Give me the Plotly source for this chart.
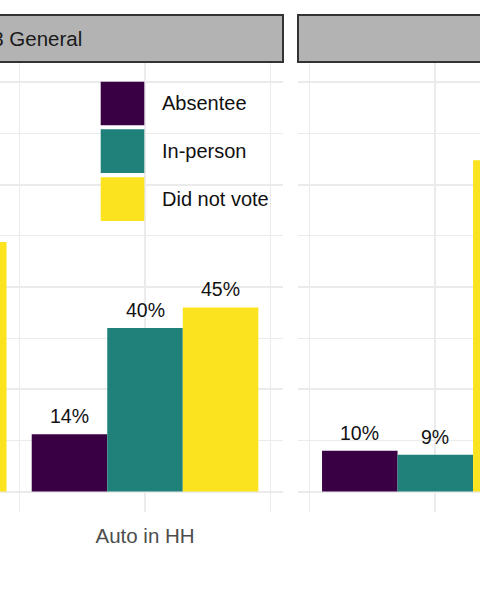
import plotly.graph_objects as go

# ---------------- data ----------------
categories = ["No Auto in HH", "Auto in HH"]
series_names = ["Absentee", "In-person", "Did not vote"]
series_colors = ["#390143", "#20807A", "#FBE31F"]
panel_titles = ["2018 General", ""]   # right-hand title lies outside the visible crop

# left facet (values outside the visible crop are unknown -> None)
left_absentee = [None, 14]
left_inperson = [None, 40]
left_didnotvote = [61, 45]

# right facet
right_absentee = [10, None]
right_inperson = [9, None]
right_didnotvote = [81, None]

panels = [
    [left_absentee, left_inperson, left_didnotvote],
    [right_absentee, right_inperson, right_didnotvote],
]

# ---------------- styling / geometry ----------------
W, H = 480, 600
FONT = "Liberation Sans, Arial, Helvetica, sans-serif"
GRID = "#EBEBEB"
STRIP_FILL = "#B3B3B3"
STRIP_LINE = "#333333"


def px(x):
    return x / W


def py(y):
    return 1 - y / H


x_domains = [[0, px(283)], [px(298), 1]]
x_ranges = [[0.424, 1.548], [-0.5455, 0.1776]]
y_domain = [py(512), py(62)]
y_range = [-5, 105]
bar_w = 0.3
offsets = [-0.45, -0.15, 0.15]

fig = go.Figure()
annotations = []

for p, series in enumerate(panels):
    xa = "x" if p == 0 else "x2"
    ya = "y" if p == 0 else "y2"
    for s, vals in enumerate(series):
        fig.add_trace(go.Bar(
            x=list(range(len(categories))), y=vals,
            width=bar_w, offset=offsets[s],
            marker=dict(color=series_colors[s], line=dict(width=0)),
            name=series_names[s], showlegend=False,
            xaxis=xa, yaxis=ya, hoverinfo="skip",
        ))
        for i, v in enumerate(vals):
            if v is None:
                continue
            annotations.append(dict(
                x=i + offsets[s] + bar_w / 2, y=v, xref=xa, yref=ya,
                text=f"{v}%", showarrow=False, yanchor="bottom",
                yshift=5, font=dict(family=FONT, size=19.5, color="#111111"),
            ))

axis_common = dict(
    showline=False, zeroline=False, ticks="",
    tickvals=list(range(len(categories))), ticktext=categories,
    showgrid=True, gridcolor=GRID, gridwidth=1.8,
    minor=dict(tickvals=[-0.5, 0.5, 1.5], showgrid=True, gridcolor=GRID, gridwidth=1),
    tickfont=dict(family=FONT, size=20.5, color="#4D4D4D"),
    ticklabelstandoff=9, fixedrange=True,
)
yaxis_common = dict(
    range=y_range, domain=y_domain, showticklabels=False, zeroline=False,
    showline=False, ticks="", dtick=25, tick0=0,
    showgrid=True, gridcolor=GRID, gridwidth=1.8,
    minor=dict(dtick=12.5, tick0=0, showgrid=True, gridcolor=GRID, gridwidth=1),
    fixedrange=True,
)

shapes = []
# facet strips
strip_spans = [[-244, 283], [298, 825]]
for p, (a, b) in enumerate(strip_spans):
    shapes.append(dict(type="rect", xref="paper", yref="paper",
                       x0=px(a), x1=px(b), y0=py(62), y1=py(15),
                       fillcolor=STRIP_FILL, line=dict(color=STRIP_LINE, width=2),
                       layer="above"))
    if panel_titles[p]:
        annotations.append(dict(x=px((a + b) / 2), y=py(38.5), xref="paper", yref="paper",
                                text=panel_titles[p], showarrow=False,
                                xanchor="center", yanchor="middle",
                                font=dict(family=FONT, size=20.5, color="#1A1A1A")))

# legend (drawn inside left panel)
key_left, key_size, key_tops = 100.7, 43.6, [81.7, 129.3, 177.3]
for s, name in enumerate(series_names):
    t = key_tops[s]
    shapes.append(dict(type="rect", xref="paper", yref="paper",
                       x0=px(key_left), x1=px(key_left + key_size),
                       y0=py(t + key_size), y1=py(t),
                       fillcolor=series_colors[s], line=dict(width=0)))
    annotations.append(dict(x=px(159.5), y=py(t + key_size / 2), xref="paper", yref="paper",
                            text=name, showarrow=False, xanchor="left", yanchor="middle",
                            font=dict(family=FONT, size=20, color="#111111")))

fig.update_layout(
    width=W, height=H, margin=dict(l=0, r=0, t=0, b=0, pad=0),
    paper_bgcolor="white", plot_bgcolor="white",
    barmode="overlay", showlegend=False,
    xaxis=dict(domain=x_domains[0], range=x_ranges[0], anchor="y", **axis_common),
    xaxis2=dict(domain=x_domains[1], range=x_ranges[1], anchor="y2", **axis_common),
    yaxis=dict(anchor="x", **yaxis_common),
    yaxis2=dict(anchor="x2", **yaxis_common),
    shapes=shapes, annotations=annotations,
)

fig.write_html("out.html")
